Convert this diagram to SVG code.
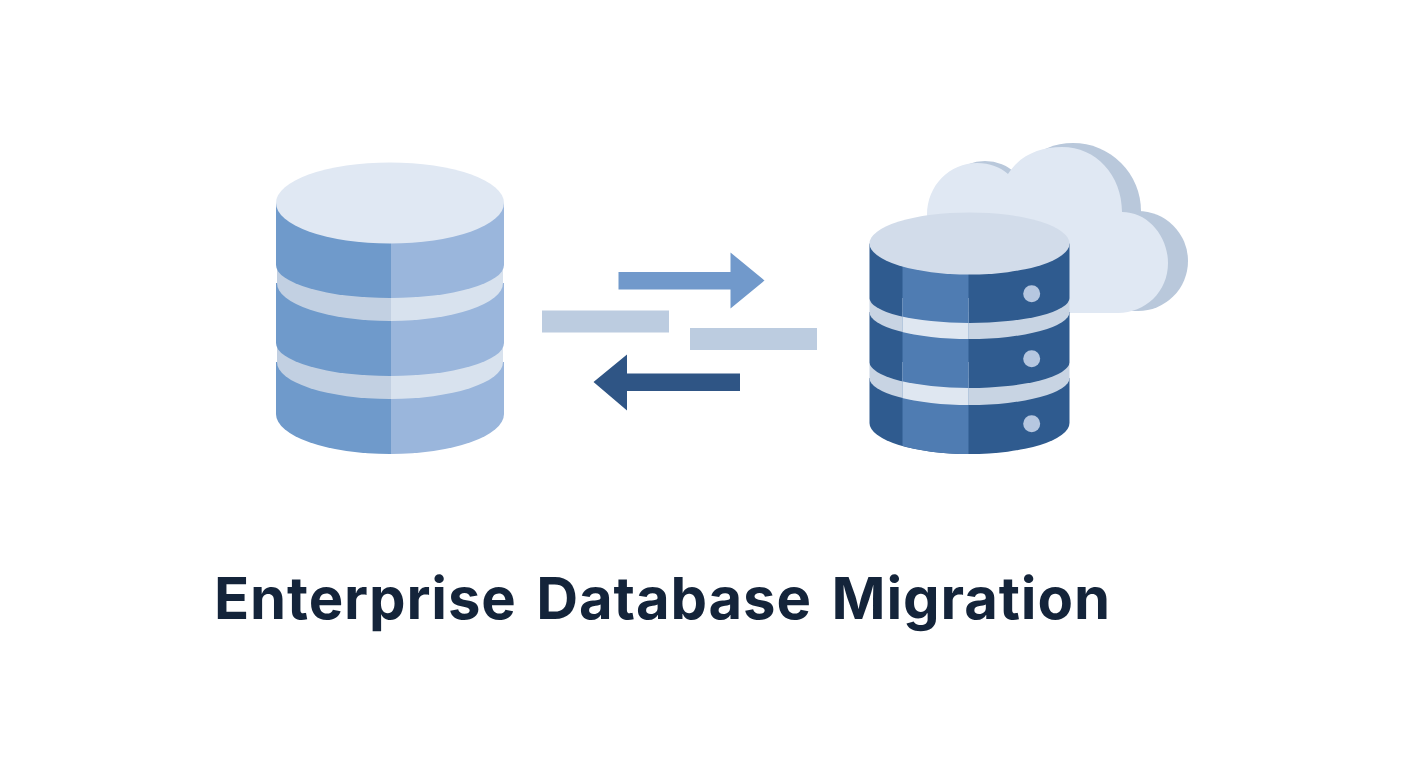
<svg xmlns="http://www.w3.org/2000/svg" width="1408" height="768" viewBox="0 0 1408 768">
<style>
.title{font-family:"Inter","Liberation Sans",sans-serif;font-weight:700;font-size:58px;word-spacing:5px;fill:#14243a}
.a1{fill:#6f9acb}.a2{fill:#9ab6dc}.b1{fill:#c2d0e2}.b2{fill:#d8e2ee}.t1{fill:#e0e8f3}
.d1{fill:#2f5b8f}.d2{fill:#4f7cb2}.e1{fill:#c8d4e3}.e2{fill:#dfe7f1}.t2{fill:#d2dcea}.dot{fill:#b6c7e0}
.back{fill:#b9c8db}.front{fill:#e0e8f3}.bar{fill:#bccce0}
</style>
<defs>
<clipPath id="lL"><rect x="270" y="150" width="122" height="320"/></clipPath>
<clipPath id="lR"><rect x="391" y="150" width="120" height="320"/></clipPath>
<clipPath id="rM"><rect x="902.500" y="200" width="66" height="270"/></clipPath>
<path id="ls3" d="M276 362V414A114 40 0 0 0 504 414V362Z"/>
<path id="lb2" d="M277 343V362A113 37 0 0 0 503 362V343Z"/>
<path id="ls2" d="M276 283V343A114 33 0 0 0 504 343V283Z"/>
<path id="lb1" d="M277 265V283A113 38 0 0 0 503 283V265Z"/>
<path id="ls1" d="M276 203V265A114 33 0 0 0 504 265V203Z"/>
<path id="rs3" d="M869.500 378V423A100 31 0 0 0 1069.500 423V378Z"/>
<path id="rb2" d="M869.500 362V378A100 27 0 0 0 1069.500 378V362Z"/>
<path id="rs2" d="M869.500 312V362A100 26 0 0 0 1069.500 362V312Z"/>
<path id="rb1" d="M869.500 298V312A100 27 0 0 0 1069.500 312V298Z"/>
<path id="rs1" d="M869.500 243.500V298A100 25 0 0 0 1069.500 298V243.500Z"/>
</defs>
<rect width="1408" height="768" fill="#ffffff"/>
<g id="source-database">
<g clip-path="url(#lL)"><use href="#ls3" class="a1"/><use href="#lb2" class="b1"/><use href="#ls2" class="a1"/><use href="#lb1" class="b1"/><use href="#ls1" class="a1"/></g>
<g clip-path="url(#lR)"><use href="#ls3" class="a2"/><use href="#lb2" class="b2"/><use href="#ls2" class="a2"/><use href="#lb1" class="b2"/><use href="#ls1" class="a2"/></g>
<ellipse cx="390" cy="203" rx="114" ry="40.500" class="t1"/>
</g>
<g id="cloud">
<g class="back"><circle cx="985" cy="205" r="44"/><circle cx="1073" cy="211" r="68"/><circle cx="1138" cy="261" r="50"/><rect x="1000" y="240" width="138" height="71"/></g>
<path class="front" d="M927 215C927 185 950 163 977 163C990 163 1000 167 1008 174C1020 155 1040 147 1062 147C1096 147 1122 175 1122 212C1148 212 1168 236 1168 263C1168 292 1145 313 1118 313H927Z"/>
</g>
<g id="target-database">
<use href="#rs3" class="d1"/><use href="#rb2" class="e1"/><use href="#rs2" class="d1"/><use href="#rb1" class="e1"/><use href="#rs1" class="d1"/>
<g clip-path="url(#rM)"><use href="#rs3" class="d2"/><use href="#rb2" class="e2"/><use href="#rs2" class="d2"/><use href="#rb1" class="e2"/><use href="#rs1" class="d2"/></g>
<ellipse cx="969.500" cy="243.500" rx="100" ry="31" class="t2"/>
<circle cx="1031.700" cy="293.700" r="8.500" class="dot"/><circle cx="1031.700" cy="358.700" r="8.500" class="dot"/><circle cx="1031.700" cy="423.700" r="8.500" class="dot"/>
</g>
<g id="connectors">
<polygon points="618.500,272 730.500,272 730.500,252.500 764.500,280.500 730.500,308.500 730.500,289.500 618.500,289.500" fill="#7199cb"/>
<rect x="542" y="310.500" width="127" height="22" class="bar"/>
<rect x="690" y="328" width="127" height="22" class="bar"/>
<polygon points="740,373.500 627,373.500 627,354.500 593.500,382 627,410.500 627,391 740,391" fill="#2f5585"/>
</g>
<text id="title" x="214" y="619" class="title" textLength="896" lengthAdjust="spacing">Enterprise Database Migration</text>
</svg>
